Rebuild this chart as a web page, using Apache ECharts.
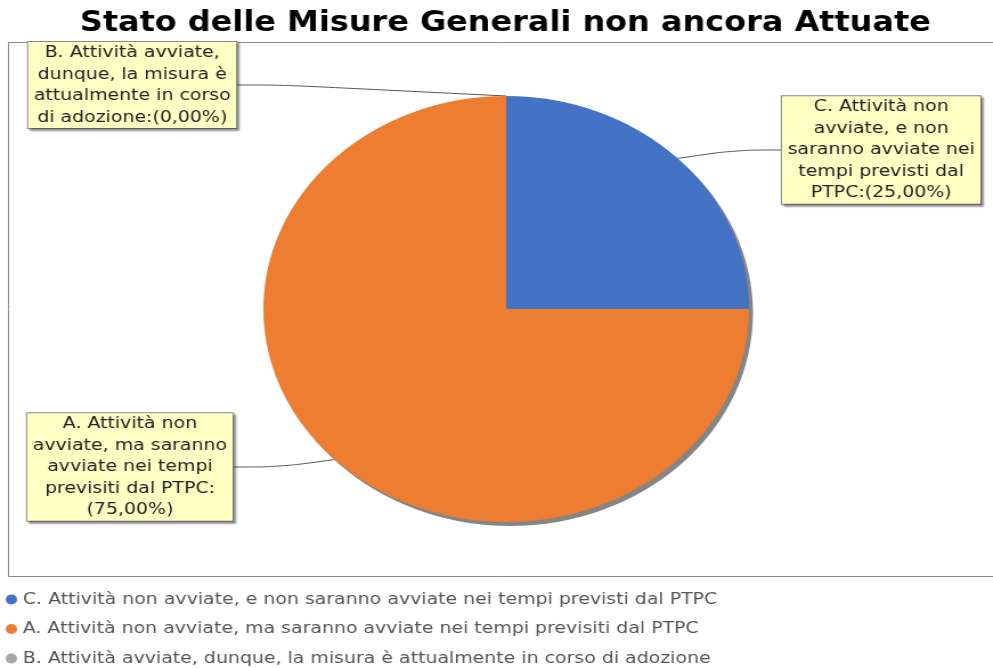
<!DOCTYPE html>
<html>
<head>
<meta charset="utf-8">
<script src="https://cdn.jsdelivr.net/npm/echarts@6/dist/echarts.min.js"></script>
<style>
  html, body { margin: 0; padding: 0; background: #fff; overflow: hidden; }
  /* the source picture is stretched sideways (the pie is an ellipse),
     so the chart is drawn narrower and widened to 993px */
  #chart { width: 871px; height: 668px; transform: scaleX(1.14); transform-origin: 0 0; }
</style>
</head>
<body>
<div id="chart"></div>
<script>
  // categories, in the order the pie runs clockwise from the top
  var categories = [
    'C. Attività non avviate, e non saranno avviate nei tempi previsti dal PTPC',
    'A. Attività non avviate, ma saranno avviate nei tempi previsiti dal PTPC',
    'B. Attività avviate, dunque, la misura è attualmente in corso di adozione'
  ];
  var values = [1, 3, 0];
  var colors = ['#4472C4', '#ED7D31', '#A5A5A5'];
  // label text as wrapped in the picture, percentage is appended
  var labelTexts = [
    'C. Attività non\navviate, e non\nsaranno avviate nei\ntempi previsti dal\nPTPC:',
    'A. Attività non\navviate, ma saranno\navviate nei tempi\nprevisiti dal PTPC:\n',
    'B. Attività avviate,\ndunque, la misura è\nattualmente in corso\ndi adozione:'
  ];

  var total = values.reduce(function (a, b) { return a + b; }, 0);
  function pct(v) {
    return (v / total * 100).toFixed(2).replace('.', ',') + '%';
  }

  var pieCenter = [444, 309];
  var pieRadius = 213;
  // centre of each label box
  var labelAnchors = [[773, 150], [114, 467], [116, 85]];

  var chart = echarts.init(document.getElementById('chart'));
  var option = {
    animation: false,
    title: {
      text: 'Stato delle Misure Generali non ancora Attuate',
      left: 65,
      top: 5,
      textStyle: {
        fontFamily: 'DejaVu Sans',
        fontWeight: 'bold',
        fontSize: 28,
        color: '#000'
      }
    },
    graphic: [{
      type: 'rect',
      silent: true,
      shape: { x: 7.5, y: 42.5, width: 900, height: 534 },
      style: { fill: null, stroke: '#888', lineWidth: 1 }
    }],
    legend: {
      orient: 'vertical',
      left: 5,
      top: 591,
      padding: 0,
      itemGap: 12.5,
      itemWidth: 10,
      itemHeight: 10,
      itemTextGap: 4,
      icon: 'circle',
      data: categories,
      textStyle: {
        fontFamily: 'DejaVu Sans',
        fontSize: 16.6,
        lineHeight: 17,
        color: '#555'
      }
    },
    series: [{
      // drop shadow under the pie
      type: 'pie',
      silent: true,
      center: [pieCenter[0] + 3.5, pieCenter[1] + 4],
      radius: pieRadius,
      label: { show: false },
      labelLine: { show: false },
      itemStyle: { color: '#858585' },
      data: [{ name: '', value: total }],
      z: 1
    }, {
      type: 'pie',
      center: pieCenter,
      radius: pieRadius,
      startAngle: 90,
      clockwise: true,
      color: colors,
      z: 2,
      itemStyle: { borderWidth: 0 },
      data: categories.map(function (c, i) {
        return { name: c, value: values[i] };
      }),
      label: {
        show: true,
        position: 'outside',
        formatter: function (p) {
          return labelTexts[p.dataIndex] + '(' + pct(values[p.dataIndex]) + ')';
        },
        fontFamily: 'DejaVu Sans',
        fontSize: 16.6,
        lineHeight: 21.5,
        color: '#222',
        align: 'center',
        backgroundColor: '#FFFFC4',
        borderColor: '#888',
        borderWidth: 1,
        padding: [0, 5, 0, 5],
        shadowColor: 'rgba(0,0,0,0.35)',
        shadowOffsetX: 2,
        shadowOffsetY: 2,
        shadowBlur: 2
      },
      labelLine: {
        show: true,
        length: 20,
        length2: 40,
        smooth: 0.35,
        lineStyle: { color: '#555', width: 1 }
      },
      labelLayout: function (params) {
        var a = labelAnchors[params.dataIndex];
        return {
          x: a[0],
          y: a[1],
          align: 'center',
          verticalAlign: 'middle'
        };
      }
    }]
  };
  chart.setOption(option);
</script>
</body>
</html>
